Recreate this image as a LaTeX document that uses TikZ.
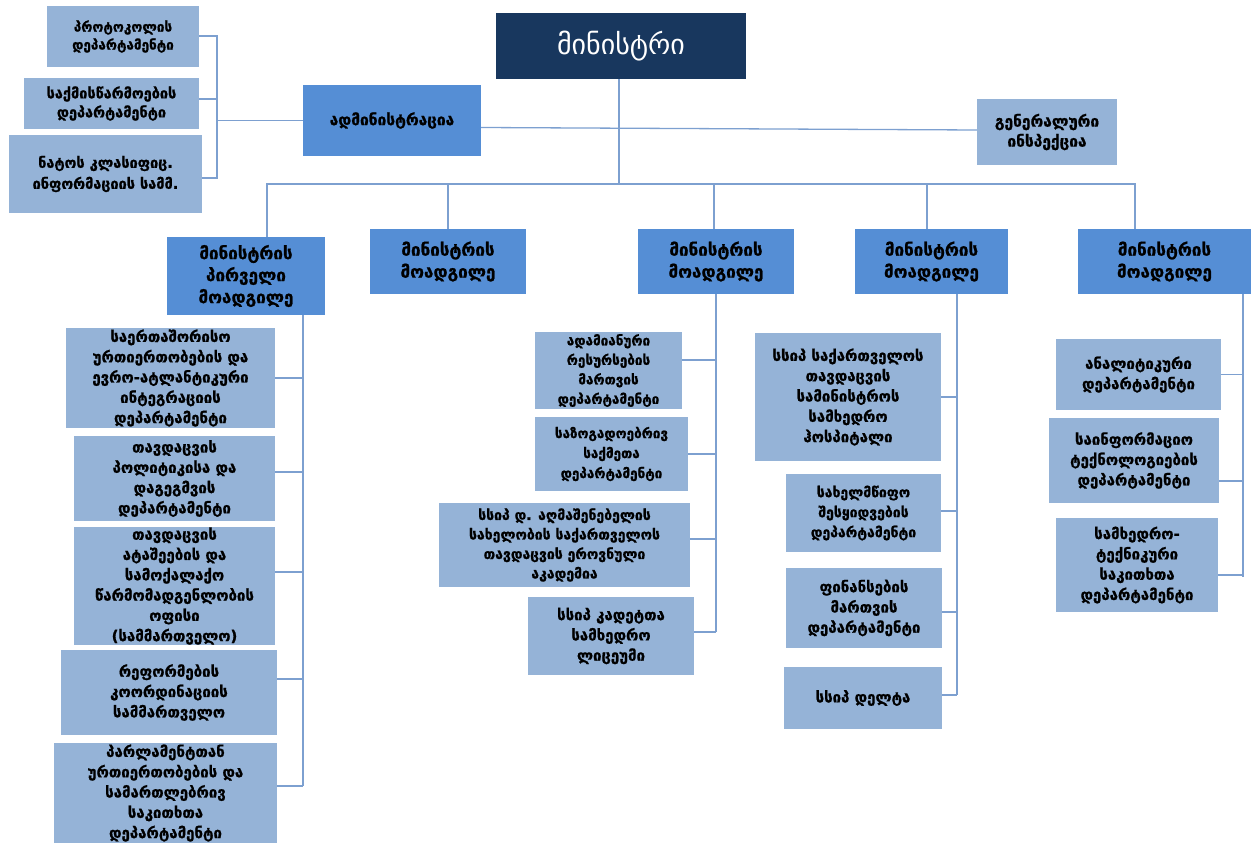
\documentclass[tikz,border=0pt]{standalone}
\usepackage{fontspec}
\setmainfont{DejaVu Sans}[BoldFeatures={FakeBold=1}]
\definecolor{navy}{RGB}{24,55,94}
\definecolor{midblue}{RGB}{85,142,213}
\definecolor{lightblue}{RGB}{149,179,215}
\definecolor{linec}{RGB}{125,160,208}
\newcommand\fsz[2]{\bfseries\fontsize{#1}{#2}\selectfont}
\tikzset{
  base/.style={inner sep=0pt, align=center, font=\fsz{15}{20.3}, text=black},
  lbox/.style={base, fill=lightblue},
  mbox/.style={base, fill=midblue},
  dep/.style={mbox, font=\fsz{17}{22}},
  conn/.style={draw=linec, line width=1.3pt},
}
\begin{document}
\begin{tikzpicture}[x=1pt,y=-1pt]
\useasboundingbox (0,0) rectangle (1252,848);
% top level
\node[base, fill=navy, text=white, font=\fontsize{28}{32}\selectfont, minimum width=250, minimum height=66] (min) at (621,46) {მინისტრი};
\node[mbox, font=\fsz{15.5}{20}, minimum width=178, minimum height=71] (adm) at (392,120.5) {ადმინისტრაცია};
\node[lbox, font=\fsz{15.5}{20}, minimum width=140, minimum height=66] (gen) at (1047,132) {გენერალური\\ინსპექცია};
\node[lbox, font=\fsz{13.5}{18}, minimum width=152, minimum height=61] (t1) at (123,36.5) {პროტოკოლის\\დეპარტამენტი};
\node[lbox, font=\fsz{14.5}{19}, minimum width=175, minimum height=51] (t2) at (111.5,103.5) {საქმისწარმოების\\დეპარტამენტი};
\node[lbox, font=\fsz{14.5}{21}, minimum width=193, minimum height=78] (t3) at (105.5,174) {ნატოს კლასიფიც.\\ინფორმაციის სამმ.};
% deputies
\node[dep, minimum width=158, minimum height=78] (d1) at (246,276) {მინისტრის\\პირველი\\მოადგილე};
\node[dep, minimum width=156, minimum height=65] (d2) at (448,261.5) {მინისტრის\\მოადგილე};
\node[dep, minimum width=156, minimum height=65] (d3) at (716,261.5) {მინისტრის\\მოადგილე};
\node[dep, minimum width=153, minimum height=65] (d4) at (931.5,261.5) {მინისტრის\\მოადგილე};
\node[dep, minimum width=173, minimum height=65] (d5) at (1164.5,261.5) {მინისტრის\\მოადგილე};
% first deputy children
\node[lbox, minimum width=209, minimum height=100] (c1) at (170.5,378) {საერთაშორისო\\ურთიერთობების და\\ევრო-ატლანტიკური\\ინტეგრაციის\\დეპარტამენტი};
\node[lbox, minimum width=201, minimum height=85] (c2) at (174.5,478.5) {თავდაცვის\\პოლიტიკისა და\\დაგეგმვის\\დეპარტამენტი};
\node[lbox, minimum width=201, minimum height=114] (c3) at (174.5,586) {თავდაცვის\\ატაშეების და\\სამოქალაქო\\წარმომადგენლობის\\ოფისი\\(სამმართველო)};
\node[lbox, minimum width=216, minimum height=85] (c4) at (169,692.5) {რეფორმების\\კოორდინაციის\\სამმართველო};
\node[lbox, minimum width=223, minimum height=100] (c5) at (165.5,793) {პარლამენტთან\\ურთიერთობების და\\სამართლებრივ\\საკითხთა\\დეპარტამენტი};
% third deputy children
\node[lbox, font=\fsz{13.5}{19.5}, minimum width=147, minimum height=77] (e1) at (608.5,370.5) {ადამიანური\\რესურსების\\მართვის\\დეპარტამენტი};
\node[lbox, font=\fsz{13.5}{20}, minimum width=153, minimum height=74] (e2) at (611.5,454) {საზოგადოებრივ\\საქმეთა\\დეპარტამენტი};
\node[lbox, font=\fsz{14}{19.5}, minimum width=251, minimum height=84] (e3) at (564.5,545) {სსიპ დ. აღმაშენებელის\\სახელობის საქართველოს\\თავდაცვის ეროვნული\\აკადემია};
\node[lbox, minimum width=166, minimum height=78] (e4) at (611,636) {სსიპ კადეტთა\\სამხედრო\\ლიცეუმი};
% fourth deputy children
\node[lbox, minimum width=186, minimum height=128] (f1) at (848,397) {სსიპ საქართველოს\\თავდაცვის\\სამინისტროს\\სამხედრო\\ჰოსპიტალი};
\node[lbox, font=\fsz{14}{20}, minimum width=155, minimum height=78] (f2) at (863.5,513) {სახელმწიფო\\შესყიდვების\\დეპარტამენტი};
\node[lbox, minimum width=156, minimum height=80] (f3) at (864,608) {ფინანსების\\მართვის\\დეპარტამენტი};
\node[lbox, minimum width=158, minimum height=62] (f4) at (863,698) {სსიპ დელტა};
% fifth deputy children
\node[lbox, minimum width=165, minimum height=71] (g1) at (1138.5,374.5) {ანალიტიკური\\დეპარტამენტი};
\node[lbox, minimum width=170, minimum height=85] (g2) at (1134,460.5) {საინფორმაციო\\ტექნოლოგიების\\დეპარტამენტი};
\node[lbox, minimum width=162, minimum height=94] (g3) at (1137,565) {სამხედრო-\\ტექნიკური\\საკითხთა\\დეპარტამენტი};
% spine coordinates
\coordinate (bk) at (217,120.5);
\coordinate (bus) at (619,184);
\coordinate (s1) at (303,0);
\coordinate (s3) at (716,0);
\coordinate (s4) at (957,0);
\coordinate (s5) at (1243,0);
% top-left bracket
\draw[conn] (t1.east |- 0,36) -- (bk |- 0,36) -- (bk |- 0,178) -- (t3.east |- 0,178);
\draw[conn] (t2.east |- 0,99) -- (bk |- 0,99);
\draw[conn] (bk) -- (adm.west);
% admin to inspection
\draw[conn] ([yshift=-7]adm.east) -- ([yshift=2]gen.west);
% minister to bus
\draw[conn] ([xshift=-2]min.south) -- (bus);
\draw[conn] ([xshift=21]d1.north) -- ([xshift=21]d1.north |- bus) -- ([xshift=-29.5]d5.north |- bus) -- ([xshift=-29.5]d5.north);
\draw[conn] (d2.north) -- (d2.north |- bus);
\draw[conn] ([xshift=-2]d3.north) -- ([xshift=-2]d3.north |- bus);
\draw[conn] ([xshift=-4.5]d4.north) -- ([xshift=-4.5]d4.north |- bus);
% first deputy spine
\draw[conn] (s1 |- d1.south) -- (s1 |- 0,786);
\draw[conn] (c1.east) -- (c1.east -| s1);
\draw[conn] ([yshift=6.5]c2.east) -- ([yshift=6.5]c2.east -| s1);
\draw[conn] ([yshift=14]c3.east) -- ([yshift=14]c3.east -| s1);
\draw[conn] ([yshift=13.5]c4.east) -- ([yshift=13.5]c4.east -| s1);
\draw[conn] ([yshift=7]c5.east) -- ([yshift=7]c5.east -| s1);
% third deputy spine
\draw[conn] (s3 |- d3.south) -- (s3 |- 0,632);
\draw[conn] ([yshift=10.5]e1.east) -- ([yshift=10.5]e1.east -| s3);
\draw[conn] (e2.east) -- (e2.east -| s3);
\draw[conn] ([yshift=6]e3.east) -- ([yshift=6]e3.east -| s3);
\draw[conn] ([yshift=4]e4.east) -- ([yshift=4]e4.east -| s3);
% fourth deputy spine
\draw[conn] (s4 |- d4.south) -- (s4 |- 0,695);
\draw[conn] (f1.east) -- (f1.east -| s4);
\draw[conn] ([yshift=2]f2.east) -- ([yshift=2]f2.east -| s4);
\draw[conn] ([yshift=-4]f3.east) -- ([yshift=-4]f3.east -| s4);
\draw[conn] ([yshift=3]f4.east) -- ([yshift=3]f4.east -| s4);
% fifth deputy spine
\draw[conn] (s5 |- d5.south) -- (s5 |- 0,577);
\draw[conn] (g1.east) -- (g1.east -| s5);
\draw[conn] ([yshift=-20.5]g2.east) -- ([yshift=-20.5]g2.east -| s5);
\draw[conn] ([yshift=-10]g3.east) -- ([yshift=-10]g3.east -| s5);
\end{tikzpicture}
\end{document}
